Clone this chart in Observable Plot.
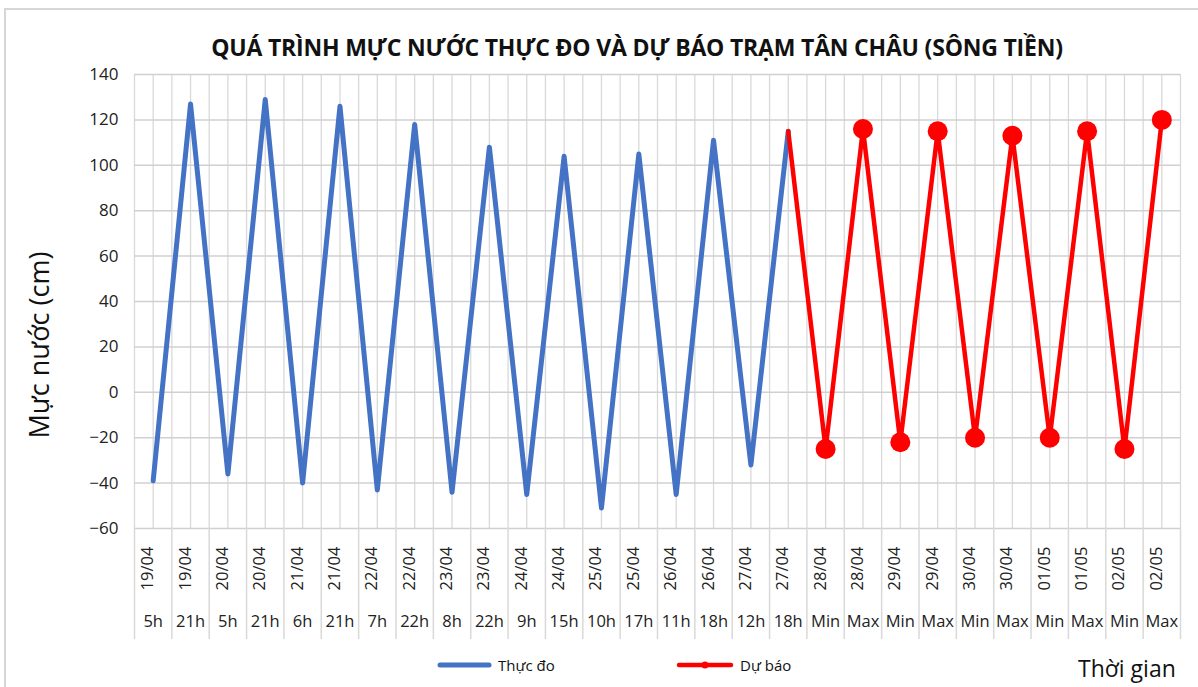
<!DOCTYPE html>
<html>
<head>
<meta charset="utf-8">
<script src="https://cdn.jsdelivr.net/npm/d3@7"></script>
<script src="https://cdn.jsdelivr.net/npm/@observablehq/plot@0.6"></script>
<style>
  body { margin: 0; background: #fff; }
  #wrap { position: relative; width: 1198px; height: 687px; overflow: hidden; font-family: "Open Sans", "Noto Sans", sans-serif; }
  #frame { position: absolute; left: 4px; top: 8px; width: 1300px; height: 800px; border-top: 2px solid #d6d6d6; border-left: 2px solid #d6d6d6; }
  #chart { position: absolute; left: 0; top: 0; }
  .title { position: absolute; left: 0; width: 1274px; top: 31px; text-align: center; font-weight: bold; font-size: 23px; color: #111; letter-spacing: -0.2px; }
  .ylab { position: absolute; left: 38px; top: 345px; transform: translate(-50%, -50%) rotate(-90deg); font-size: 27px; color: #111; white-space: nowrap; }
  .xlab { position: absolute; left: 1078px; top: 652px; font-size: 23px; color: #111; }
  .leg { position: absolute; top: 655px; font-size: 15px; color: #111; display: flex; align-items: center; }
  .leg svg { margin-right: 6px; }
</style>
</head>
<body>
<div id="wrap">
  <div id="frame"></div>
  <div id="chart"></div>
  <div class="title">QUÁ TRÌNH MỰC NƯỚC THỰC ĐO VÀ DỰ BÁO TRẠM TÂN CHÂU (SÔNG TIỀN)</div>
  <div class="ylab">Mực nước (cm)</div>
  <div class="leg" style="left:437px"><svg width="55" height="10"><line x1="3" y1="5" x2="52" y2="5" stroke="#4472C4" stroke-width="5" stroke-linecap="round"/></svg>Thực đo</div>
  <div class="leg" style="left:676px"><svg width="58" height="12"><line x1="3" y1="6" x2="55" y2="6" stroke="#FF0000" stroke-width="4.5" stroke-linecap="round"/><circle cx="29" cy="6" r="3.5" fill="#FF0000"/></svg>Dự báo</div>
  <div class="xlab">Thời gian</div>
</div>
<script>
const dates = ["19/04","19/04","20/04","20/04","21/04","21/04","22/04","22/04","23/04","23/04","24/04","24/04","25/04","25/04","26/04","26/04","27/04","27/04","28/04","28/04","29/04","29/04","30/04","30/04","01/05","01/05","02/05","02/05"];
const hours = ["5h","21h","5h","21h","6h","21h","7h","22h","8h","22h","9h","15h","10h","17h","11h","18h","12h","18h","Min","Max","Min","Max","Min","Max","Min","Max","Min","Max"];
const measured = [-39, 127, -36, 129, -40, 126, -43, 118, -44, 108, -45, 104, -51, 105, -45, 111, -32, 115];
const forecast = [-25, 116, -22, 115, -20, 113, -20, 115, -25, 120];
const yTicks = [-60, -40, -20, 0, 20, 40, 60, 80, 100, 120, 140];

const cats = dates.map((d, i) => ({i, date: d, hour: hours[i]}));
const blue = measured.map((v, i) => ({i, v}));
const redDots = forecast.map((v, k) => ({i: measured.length + k, v}));
const red = [{i: measured.length - 1, v: measured[measured.length - 1]}, ...redDots];
const n = cats.length;
const halfGrid = d3.range(0, 2 * n + 1).map(k => k / 2 - 0.5);
const bounds = d3.range(0, n + 1).map(k => k - 0.5);

const plot = Plot.plot({
  width: 1198,
  height: 687,
  marginLeft: 134,
  marginRight: 18,
  marginTop: 74,
  marginBottom: 159,
  style: {fontFamily: "'Open Sans', 'Noto Sans', sans-serif", background: "transparent", color: "#222"},
  x: {type: "linear", domain: [-0.5, n - 0.5], axis: null},
  y: {domain: [-60, 140], axis: null},
  marks: [
    Plot.ruleX(halfGrid, {x: d => d, stroke: "#d9d9d9", strokeWidth: 1.3}),
    Plot.ruleY(yTicks, {y: d => d, stroke: "#d0d0d0", strokeWidth: 1.5}),
    Plot.ruleX(bounds, {x: d => d, stroke: "#d9d9d9", strokeWidth: 1.5, insetTop: 454, insetBottom: -111}),
    Plot.axisY(yTicks, {tickSize: 0, tickPadding: 16, fontSize: 17, fill: "#222", label: null}),
    Plot.text(cats, {x: "i", text: "date", frameAnchor: "bottom", rotate: -90, dy: 40, fontSize: 16.5, fill: "#222"}),
    Plot.text(cats, {x: "i", text: "hour", frameAnchor: "bottom", dy: 98, fontSize: 16.5, fill: "#222"}),
    Plot.line(blue, {x: "i", y: "v", stroke: "#4472C4", strokeWidth: 5, strokeLinejoin: "round", strokeLinecap: "round"}),
    Plot.line(red, {x: "i", y: "v", stroke: "#FF0000", strokeWidth: 4.5, strokeLinejoin: "round", strokeLinecap: "round"}),
    Plot.dot(redDots, {x: "i", y: "v", r: 10, fill: "#FF0000", stroke: "none"})
  ]
});
document.getElementById("chart").appendChild(plot);
</script>
</body>
</html>
